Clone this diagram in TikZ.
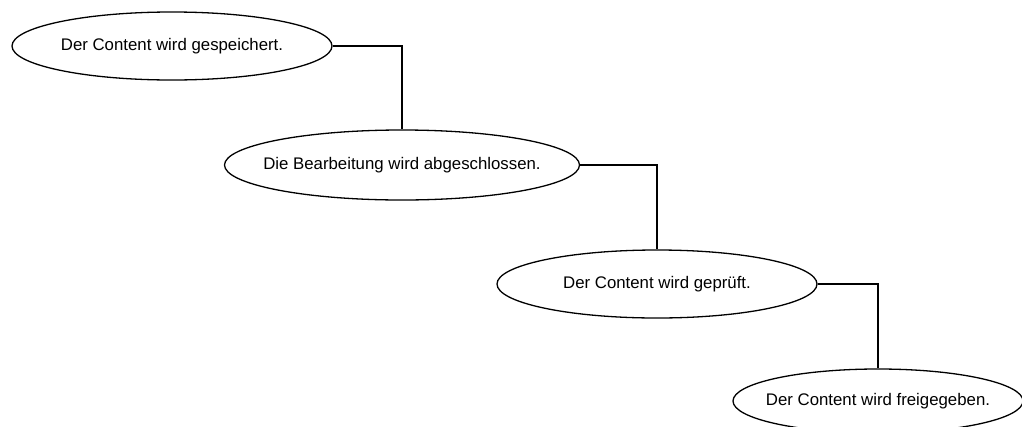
\documentclass[tikz,border=0pt]{standalone}
\usepackage{fontspec}
\setmainfont{Liberation Sans}
\usetikzlibrary{shapes.geometric}
\begin{document}
\begin{tikzpicture}[x=1pt,y=-1pt,
  stepell/.style={ellipse,draw=black,line width=1.3pt,fill=white,inner sep=0pt},
  steptext/.style={font=\fontsize{16.8}{19}\selectfont,inner sep=0pt},
  link/.style={draw=black,line width=1.3pt}]
\fill[white] (0,0) rectangle (1022,426);
\useasboundingbox (0,0) rectangle (1022,426);
\node[stepell,minimum width=320pt,minimum height=68pt] (a) at (172,46) {};
\node[steptext] (ta) at (a.center) {Der Content wird gespeichert.};
\node[stepell,minimum width=355pt,minimum height=70pt] (b) at (402,165) {};
\node[steptext] (tb) at (b.center) {Die Bearbeitung wird abgeschlossen.};
\node[stepell,minimum width=320pt,minimum height=68pt] (c) at (657,284) {};
\node[steptext] (tc) at (c.center) {Der Content wird geprüft.};
\node[stepell,minimum width=290pt,minimum height=64pt] (d) at (878,401) {};
\node[steptext] (td) at (d.center) {Der Content wird freigegeben.};
\draw[link] (a.east) -| (b.north);
\draw[link] (b.east) -| (c.north);
\draw[link] (c.east) -| (d.north);
\end{tikzpicture}
\end{document}
